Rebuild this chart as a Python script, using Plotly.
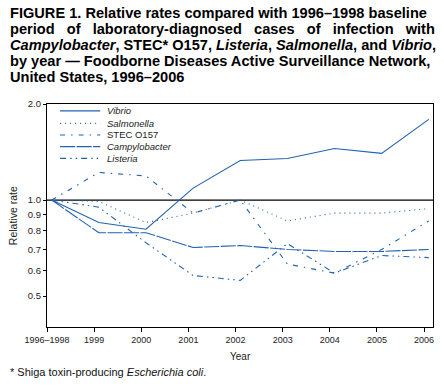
import math
import plotly.graph_objects as go

categories = ["1996–1998", "1999", "2000", "2001", "2002", "2003", "2004", "2005", "2006"]
vibrio = [1.0, 0.85, 0.81, 1.09, 1.33, 1.35, 1.45, 1.40, 1.79]
salmonella = [1.0, 0.99, 0.85, 0.91, 1.0, 0.86, 0.91, 0.91, 0.94]
stec = [1.0, 1.22, 1.19, 0.91, 1.0, 0.63, 0.59, 0.70, 0.86]
campylobacter = [1.0, 0.79, 0.79, 0.71, 0.72, 0.70, 0.69, 0.69, 0.70]
listeria = [1.0, 0.95, 0.735, 0.58, 0.56, 0.73, 0.59, 0.67, 0.66]

y_ticks = [0.5, 0.6, 0.7, 0.8, 0.9, 1.0, 2.0]
y_ticktext = ["0.5", "0.6", "0.7", "0.8", "0.9", "1.0", "2.0"]

title_lines = [
    "FIGURE 1. Relative rates compared with 1996–1998 baseline",
    "period of laboratory-diagnosed cases of infection with",
    "<i>Campylobacter</i>, STEC* O157, <i>Listeria</i>, <i>Salmonella</i>, and <i>Vibrio</i>,",
    "by year — Foodborne Diseases Active Surveillance Network,",
    "United States, 1996–2006",
]
# extra non-breaking spaces per word gap, to imitate the justified title block
title_extra_space = [0, 2, 0, 0, 0]

BLUE = "#2262ae"
FONT = "Liberation Sans, Arial, Helvetica, sans-serif"

series = [
    ("<i>Vibrio</i>", vibrio, "solid"),
    ("<i>Salmonella</i>", salmonella, "1px,4px"),
    ("STEC O157", stec, "5px,6px,1.5px,6px"),
    ("<i>Campylobacter</i>", campylobacter, "15px,1.5px"),
    ("<i>Listeria</i>", listeria, "6px,4px,1.5px,4px,1.5px,4px"),
]

xpos = [i + 0.1 for i in range(len(categories))]

fig = go.Figure()
for name, vals, dash in series:
    fig.add_trace(go.Scatter(
        x=xpos, y=vals, mode="lines", name=name, showlegend=False,
        line=dict(color=BLUE, width=1.1, dash=dash),
    ))

fig.add_hline(y=1.0, line=dict(color="black", width=1.3), layer="below")

# manual legend
legend_y = [0.969, 0.913, 0.861, 0.809, 0.756]
for (name, vals, dash), ly in zip(series, legend_y):
    fig.add_shape(type="line", xref="paper", yref="paper",
                  x0=0.034, x1=0.138, y0=ly, y1=ly,
                  line=dict(color=BLUE, width=1.1, dash=dash))
    fig.add_annotation(xref="paper", yref="paper", x=0.151, y=ly,
                       text=name, showarrow=False, xanchor="left", yanchor="middle",
                       font=dict(family=FONT, size=9.5, color="#222"))

# title lines
title_y = [1.407, 1.335, 1.265, 1.193, 1.120]
for txt, ty, k in zip(title_lines, title_y, title_extra_space):
    txt = (" " + "\u00a0" * k).join(txt.split(" "))
    fig.add_annotation(xref="paper", yref="paper", x=-0.101, y=ty,
                       text="<b>" + txt + "</b>", showarrow=False,
                       xanchor="left", yanchor="middle",
                       font=dict(family=FONT, size=14.6, color="black"))

fig.add_annotation(xref="paper", yref="paper", x=0.5, y=-0.133,
                   text="Year", showarrow=False, xanchor="center", yanchor="middle",
                   font=dict(family=FONT, size=10, color="#222"))
fig.add_annotation(xref="paper", yref="paper", x=-0.089, y=0.5,
                   text="Relative rate", showarrow=False, textangle=-90,
                   xanchor="center", yanchor="middle",
                   font=dict(family=FONT, size=10.5, color="#222"))
fig.add_annotation(xref="paper", yref="paper", x=-0.101, y=-0.200,
                   text="* Shiga toxin-producing <i>Escherichia coli</i>.",
                   showarrow=False, xanchor="left", yanchor="middle",
                   font=dict(family=FONT, size=11, color="#111"))

fig.update_layout(
    width=444, height=392,
    margin=dict(l=47, r=11, t=104, b=65),
    paper_bgcolor="white", plot_bgcolor="white",
    xaxis=dict(range=[0, 8.19], tickvals=list(range(len(categories))), ticktext=categories,
               showgrid=False, zeroline=False, showline=True, linecolor="black", linewidth=1.3,
               mirror=True, ticks="outside", ticklen=4, tickcolor="black",
               tickfont=dict(family=FONT, size=9, color="#222")),
    yaxis=dict(type="log", range=[math.log10(0.4), math.log10(2.0)],
               tickvals=y_ticks, ticktext=y_ticktext,
               showgrid=False, zeroline=False, showline=True, linecolor="black", linewidth=1.3,
               mirror=True, ticks="outside", ticklen=3, tickcolor="black",
               tickfont=dict(family=FONT, size=9.5, color="#222")),
)

fig.write_html("out.html", config={"displayModeBar": False},
               post_script="document.body.style.margin='0px';")
